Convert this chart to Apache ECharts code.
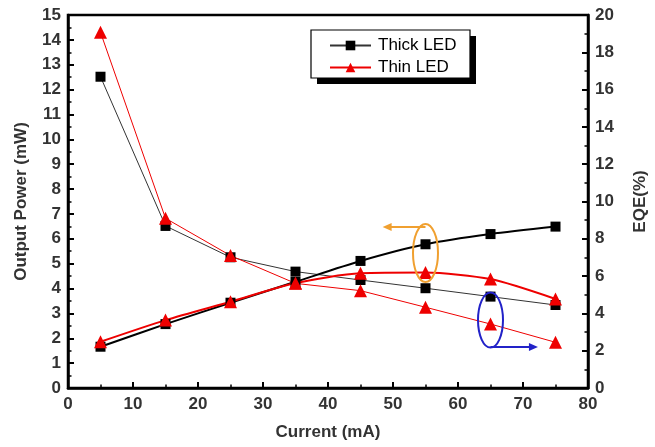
<!DOCTYPE html>
<html><head><meta charset="utf-8">
<script src="https://cdn.jsdelivr.net/npm/echarts@6/dist/echarts.min.js"></script>
<style>html,body{margin:0;padding:0;background:#fff}#c{width:655px;height:447px}</style>
</head><body><div id="c"></div>
<script>
const current = [5, 15, 25, 35, 45, 55, 65, 75];
const thickPower = [1.66, 2.57, 3.43, 4.27, 5.11, 5.78, 6.19, 6.49];
const thinPower = [1.86, 2.73, 3.47, 4.22, 4.61, 4.64, 4.38, 3.58];
const thickEQE = [16.69, 8.69, 7.01, 6.24, 5.79, 5.35, 4.90, 4.45];
const thinEQE = [19.07, 9.10, 7.10, 5.61, 5.22, 4.33, 3.43, 2.45];
const xTicks = {min: 0, max: 80, interval: 10};
const leftTicks = {min: 0, max: 15, interval: 1};
const rightTicks = {min: 0, max: 20, interval: 2};

const pair = (xs, ys) => xs.map((x, i) => [x, ys[i]]);
const chart = echarts.init(document.getElementById('c'));
const labelStyle = {color: '#333', fontSize: 17, fontWeight: 'bold', fontFamily: 'Liberation Sans'};
const axisLine = {show: true, lineStyle: {color: '#000', width: 2.5}};
const tick = {show: true, inside: true, length: 6, lineStyle: {color: '#000', width: 2}};
const minor = {show: true, splitNumber: 2, length: 3.5, lineStyle: {color: '#000', width: 1.5}};
const RED = '#ee0000';
const nameStyle = {fontSize: 17, fontWeight: 'bold', color: '#333', fontFamily: 'Liberation Sans'};

chart.setOption({
  animation: false,
  grid: {left: 68, right: 67, top: 15, bottom: 59, outerBoundsMode: 'none', show: true, borderColor: '#000', borderWidth: 2.5, backgroundColor: 'transparent'},
  legend: {
    orient: 'vertical', left: 329, top: 37,
    padding: 0, itemGap: 5, itemWidth: 41, itemHeight: 12,
    textStyle: {fontSize: 17, color: '#000', fontFamily: 'Liberation Sans', padding: [0, 0, 0, 2]},
    data: ['Thick LED', 'Thin LED'], z: 20
  },
  xAxis: {
    type: 'value', min: xTicks.min, max: xTicks.max, interval: xTicks.interval,
    name: 'Current (mA)', nameLocation: 'middle', nameGap: 36, nameTextStyle: nameStyle,
    axisLine, axisTick: tick, minorTick: minor, splitLine: {show: false},
    axisLabel: Object.assign({margin: 8}, labelStyle)
  },
  yAxis: [{
    type: 'value', min: leftTicks.min, max: leftTicks.max, interval: leftTicks.interval,
    name: 'Output Power (mW)', nameLocation: 'middle', nameGap: 38, nameTextStyle: nameStyle,
    axisLine, axisTick: tick, minorTick: minor, splitLine: {show: false},
    axisLabel: Object.assign({margin: 7}, labelStyle)
  }, {
    type: 'value', position: 'right', min: rightTicks.min, max: rightTicks.max, interval: rightTicks.interval,
    name: 'EQE(%)', nameLocation: 'middle', nameGap: 44, nameRotate: 90, nameTextStyle: nameStyle,
    axisLine, axisTick: tick, minorTick: minor, splitLine: {show: false},
    axisLabel: Object.assign({margin: 7}, labelStyle)
  }],
  series: [
    {name: 'Thick LED', type: 'line', yAxisIndex: 1, data: pair(current, thickEQE),
     symbol: 'rect', symbolSize: 10, itemStyle: {color: '#000'}, lineStyle: {color: '#333', width: 1}, z: 3},
    {name: 'Thin LED', type: 'line', yAxisIndex: 1, data: pair(current, thinEQE),
     symbol: 'triangle', symbolSize: 13, itemStyle: {color: RED}, lineStyle: {color: RED, width: 1}, z: 3},
    {name: 'Thick LED', type: 'line', yAxisIndex: 0, data: pair(current, thickPower), smooth: 0.25,
     symbol: 'rect', symbolSize: 10, itemStyle: {color: '#000'}, lineStyle: {color: '#000', width: 2}, z: 4},
    {name: 'Thin LED', type: 'line', yAxisIndex: 0, data: pair(current, thinPower), smooth: 0.25,
     symbol: 'triangle', symbolSize: 13, itemStyle: {color: RED}, lineStyle: {color: RED, width: 2}, z: 4}
  ]
});

function px(x, y) { return chart.convertToPixel({xAxisIndex: 0, yAxisIndex: 0}, [x, y]); }
const o = px(55, 5.43), oTip = px(48.4, 0);
const b = px(65, 2.73), bTip = px(72.3, 0);
const ORANGE = '#f0a030', BLUE = '#2222c8';
const oy = o[1] - 26, by = b[1] + 27;
chart.setOption({graphic: [
  {type: 'rect', shape: {x: 317, y: 36, width: 159, height: 48}, style: {fill: '#000'}, z: 15},
  {type: 'rect', shape: {x: 311, y: 30, width: 159, height: 48}, style: {fill: '#fff', stroke: '#000', lineWidth: 1.2}, z: 16},
  {type: 'ellipse', shape: {cx: o[0], cy: o[1], rx: 12.5, ry: 29}, style: {fill: 'none', stroke: ORANGE, lineWidth: 2}, z: 10},
  {type: 'line', shape: {x1: o[0], y1: oy, x2: oTip[0] + 6, y2: oy}, style: {stroke: ORANGE, lineWidth: 2}, z: 10},
  {type: 'polygon', shape: {points: [[oTip[0], oy], [oTip[0] + 9, oy - 4], [oTip[0] + 9, oy + 4]]}, style: {fill: ORANGE}, z: 10},
  {type: 'ellipse', shape: {cx: b[0], cy: b[1], rx: 12.5, ry: 27.5}, style: {fill: 'none', stroke: BLUE, lineWidth: 2}, z: 10},
  {type: 'line', shape: {x1: b[0], y1: by, x2: bTip[0] - 6, y2: by}, style: {stroke: BLUE, lineWidth: 2}, z: 10},
  {type: 'polygon', shape: {points: [[bTip[0], by], [bTip[0] - 9, by - 4], [bTip[0] - 9, by + 4]]}, style: {fill: BLUE}, z: 10}
]});
</script></body></html>
